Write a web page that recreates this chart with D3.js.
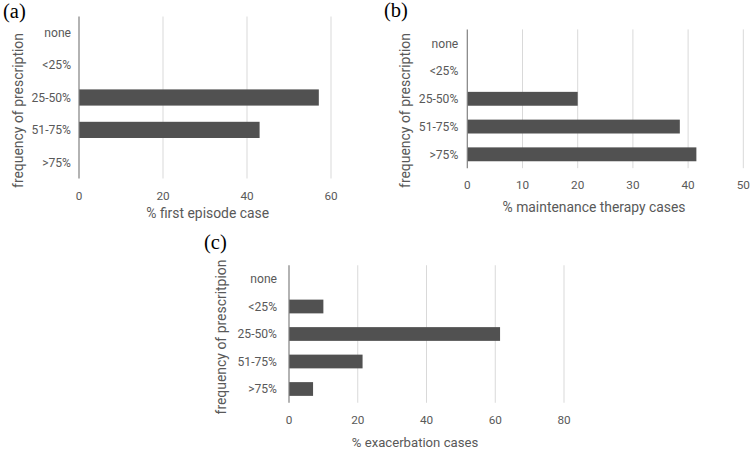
<!DOCTYPE html>
<html><head><meta charset="utf-8">
<script src="https://cdn.jsdelivr.net/npm/d3@7"></script>
<style>body{margin:0;background:#fff}svg{display:block}</style>
</head><body>
<svg id="c" width="755" height="452"></svg>
<script>
const categories = ["none", "<25%", "25-50%", "51-75%", ">75%"];
const firstEpisode = [0, 0, 57.1, 43.0, 0];
const maintenance = [0, 0, 20.0, 38.5, 41.5];
const exacerbation = [0, 10.0, 61.4, 21.4, 7.0];
const ticksA = [0, 20, 40, 60];
const ticksB = [0, 10, 20, 30, 40, 50];
const ticksC = [0, 20, 40, 60, 80];
const titlesX = ["% first episode case", "% maintenance therapy cases", "% exacerbation cases"];
const titlesY = ["frequency of prescription", "frequency of prescription", "frequency of prescritpion"];
const panelLabels = ["(a)", "(b)", "(c)"];

const svg = d3.select("#c");
const FONT = "Roboto, 'Open Sans', sans-serif";
const TXT = "#595959";

// size a font so that a sample string reaches a given width
function fitSize(sample, width) {
  const t = svg.append("text").attr("font-family", FONT).attr("font-size", 20).text(sample);
  const w = t.node().getComputedTextLength();
  t.remove();
  return 20 * width / w;
}
const tickSize = fitSize("25-50%", 39.5);
const numSize = fitSize("20", 13.2);

const panels = [
  {vals: firstEpisode, ticks: ticksA, x0: 79, x1: 331, top: 16.5, bottom: 178.5, tickY: 200, titleX: 207.7, titleY: 218.3,
   xTitleW: 123, yTitleX: 18.5, yTitleY: 110.5, lab: [3, 18], gap: 8},
  {vals: maintenance, ticks: ticksB, x0: 467.3, x1: 743.3, top: 29.4, bottom: 168.2, tickY: 189, titleX: 594, titleY: 212.3,
   xTitleW: 183, yTitleX: 405.5, yTitleY: 110.5, lab: [384, 17], gap: 9},
  {vals: exacerbation, ticks: ticksC, x0: 289, x1: 564, top: 265.25, bottom: 402.75, tickY: 424, titleX: 415, titleY: 446.7,
   xTitleW: 126.6, yTitleX: 221.5, yTitleY: 337, lab: [204, 249], gap: 12}
];

panels.forEach((p, i) => {
  const g = svg.append("g");
  const x = d3.scaleLinear().domain([0, d3.max(p.ticks)]).range([p.x0, p.x1]);
  const y = d3.scaleBand().domain(categories).range([p.top, p.bottom]).paddingInner(0.5).paddingOuter(0.25);
  const yc = d3.scaleBand().domain(categories).range([p.top, p.bottom]);

  g.selectAll("line.grid").data(p.ticks.filter(t => t > 0)).join("line")
    .attr("x1", d => x(d)).attr("x2", d => x(d))
    .attr("y1", p.top).attr("y2", p.bottom)
    .attr("stroke", "#d9d9d9").attr("stroke-width", 1);

  g.selectAll("rect").data(categories.map((c, k) => ({c, v: p.vals[k]})).filter(d => d.v > 0)).join("rect")
    .attr("x", x(0)).attr("y", d => y(d.c))
    .attr("width", d => x(d.v) - x(0)).attr("height", y.bandwidth())
    .attr("fill", "#515151");

  g.append("line").attr("x1", x(0)).attr("x2", x(0)).attr("y1", p.top).attr("y2", p.bottom)
    .attr("stroke", "#808080").attr("stroke-width", 1.2);

  g.selectAll("text.xt").data(p.ticks).join("text")
    .attr("x", d => x(d)).attr("y", p.tickY)
    .attr("text-anchor", "middle").attr("font-family", FONT).attr("font-size", numSize)
    .attr("fill", TXT).text(d => d);

  g.selectAll("text.yt").data(categories).join("text")
    .attr("x", x(0) - p.gap).attr("y", d => yc(d) + yc.bandwidth() / 2)
    .attr("dy", "0.35em")
    .attr("text-anchor", "end").attr("font-family", FONT).attr("font-size", tickSize)
    .attr("fill", TXT).text(d => d);

  g.append("text").attr("x", p.titleX).attr("y", p.titleY)
    .attr("text-anchor", "middle").attr("font-family", FONT).attr("font-size", fitSize(titlesX[i], p.xTitleW))
    .attr("fill", TXT).text(titlesX[i]);

  g.append("text").attr("transform", `translate(${p.yTitleX},${p.yTitleY}) rotate(-90)`)
    .attr("dy", "0.35em")
    .attr("text-anchor", "middle").attr("font-family", FONT).attr("font-size", fitSize(titlesY[i], 155))
    .attr("fill", TXT).text(titlesY[i]);

  g.append("text").attr("x", p.lab[0]).attr("y", p.lab[1])
    .attr("font-family", "'Liberation Serif', 'Times New Roman', serif").attr("font-size", 20.5)
    .attr("fill", "#000").text(panelLabels[i]);
});
</script>
</body></html>
